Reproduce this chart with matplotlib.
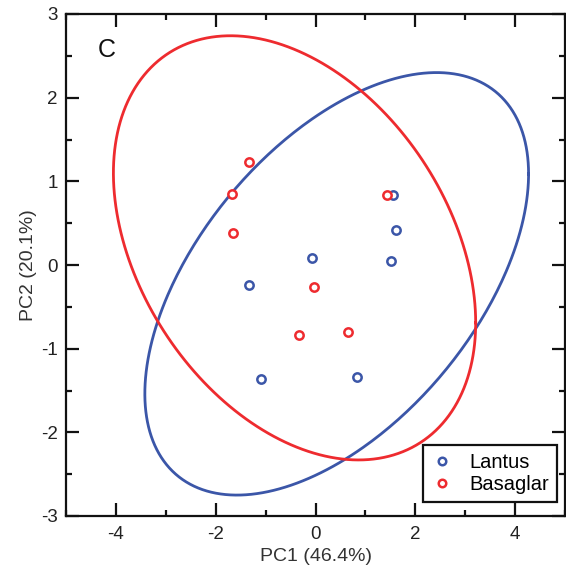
import numpy as np
import matplotlib
matplotlib.use("Agg")
import matplotlib.pyplot as plt
from matplotlib.ticker import MultipleLocator

# ---- data ----
lantus_pc1 = [1.55, 1.61, 1.52, -0.08, -1.34, -1.09, 0.84]
lantus_pc2 = [0.84, 0.42, 0.05, 0.08, -0.24, -1.36, -1.34]
basaglar_pc1 = [-1.33, -1.68, -1.66, 1.44, -0.03, -0.34, 0.65]
basaglar_pc2 = [1.23, 0.85, 0.38, 0.84, -0.26, -0.84, -0.80]

# ellipse: center, (sx, sy, sxy) shape matrix
lantus_center = [0.425, -0.225]
lantus_shape = [3.845, 2.525, 5.05]
basaglar_center = [-0.42, 0.205]
basaglar_shape = [3.63, 2.535, -3.25]

series_names = ["Lantus", "Basaglar"]
colors = ["#3b56a8", "#ee2b2f"]

x_label = "PC1 (46.4%)"
y_label = "PC2 (20.1%)"
panel_label = "C"

plt.rcParams['font.family'] = ['Liberation Sans', 'DejaVu Sans']
plt.rcParams['axes.unicode_minus'] = False

fig = plt.figure(figsize=(5.66, 5.72), dpi=100)
ax = fig.add_axes([66/566, 56/572, 499/566, 502/572])


def ellipse_xy(center, shape, n=400):
    sx, sy, sxy = shape
    S = np.array([[sx**2, sxy], [sxy, sy**2]])
    L = np.linalg.cholesky(S)
    t = np.linspace(0, 2*np.pi, n)
    u = np.vstack([np.cos(t), np.sin(t)])
    pts = L @ u
    return pts[0] + center[0], pts[1] + center[1]


ex, ey = ellipse_xy(lantus_center, lantus_shape)
ax.plot(ex, ey, color=colors[0], lw=2.0, zorder=2)
ex, ey = ellipse_xy(basaglar_center, basaglar_shape)
ax.plot(ex, ey, color=colors[1], lw=2.0, zorder=2)

ax.plot(lantus_pc1, lantus_pc2, 'o', ls='none', mfc='white', mec=colors[0],
        ms=6, mew=1.8, label=series_names[0], zorder=3)
ax.plot(basaglar_pc1, basaglar_pc2, 'o', ls='none', mfc='white', mec=colors[1],
        ms=6, mew=1.8, label=series_names[1], zorder=3)

ax.set_xlim(-5, 5)
ax.set_ylim(-3, 3)
ax.xaxis.set_major_locator(MultipleLocator(2))
ax.xaxis.set_minor_locator(MultipleLocator(1))
ax.yaxis.set_major_locator(MultipleLocator(1))
ax.yaxis.set_minor_locator(MultipleLocator(0.5))
ax.tick_params(which='both', direction='in', top=True, right=True,
               width=1.6, labelsize=13.5, color='#111111', labelcolor='#222222')
ax.tick_params(which='major', length=9.5)
ax.tick_params(axis='x', which='major', pad=7)
ax.tick_params(axis='y', which='major', pad=6)
ax.tick_params(which='minor', length=4.5)
for s in ax.spines.values():
    s.set_linewidth(1.6)
    s.set_color('#111111')

ax.set_xlabel(x_label, fontsize=14, labelpad=4, color='#333333')
ax.set_ylabel(y_label, fontsize=14, labelpad=3, color='#333333')
ax.text(0.063, 0.928, panel_label, transform=ax.transAxes, fontsize=18,
        va='center', ha='left', color='#111111')

leg = ax.legend(loc='lower right', bbox_to_anchor=(0.984, 0.028), borderaxespad=0,
                fancybox=False, framealpha=1, edgecolor='#111111', fontsize=14.5,
                handlelength=1.1, handletextpad=0.8, borderpad=0.4, labelspacing=0.12,
                markerscale=0.9)
leg.get_frame().set_linewidth(1.6)

fig.savefig("out.png", dpi=100)
